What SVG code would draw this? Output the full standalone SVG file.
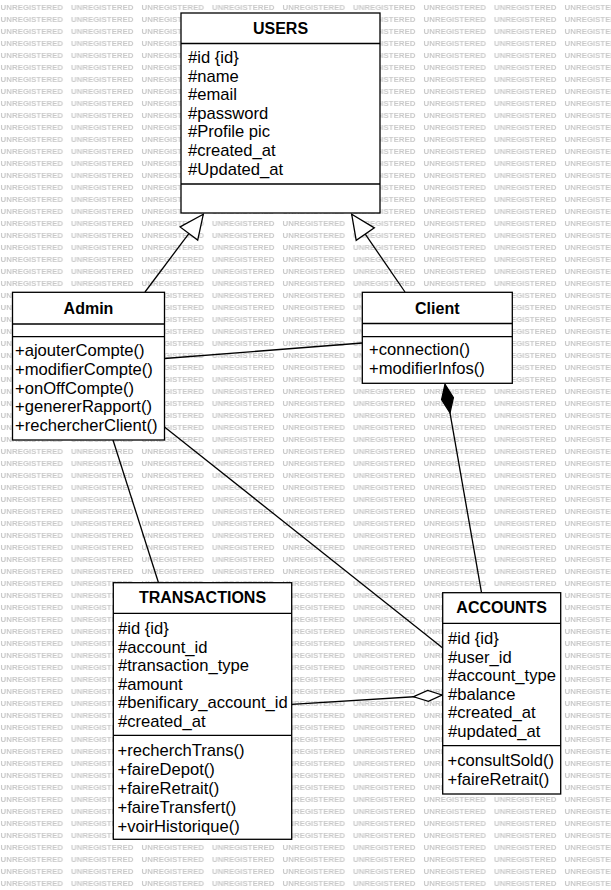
<svg xmlns="http://www.w3.org/2000/svg" width="611" height="890" viewBox="0 0 611 890">
<style>
.box{fill:#fff;stroke:#000;stroke-width:1.3}
.div{stroke:#000;stroke-width:1.3}
.t{font-family:"Liberation Sans",Arial,sans-serif;font-size:16px;font-weight:bold;fill:#000;text-anchor:middle}
.m{font-family:"Liberation Sans",Arial,sans-serif;font-size:16.6px;fill:#000}
.wm{font-family:"Liberation Sans",Arial,sans-serif;font-size:7.6px;font-weight:bold;fill:#c9c9c9}
.c{fill:none;stroke:#000;stroke-width:1.3}
</style>
<defs>
<pattern id="wmp" x="0" y="0" width="70.5" height="12" patternUnits="userSpaceOnUse">
<text class="wm" x="0.5" y="10" textLength="62.5" lengthAdjust="spacingAndGlyphs">UNREGISTERED</text>
</pattern>
<marker id="gen" markerUnits="userSpaceOnUse" orient="auto" refX="0" refY="0" markerWidth="30" markerHeight="30" overflow="visible">
<path d="M0,0 L-24,-11 L-24,11 Z" fill="#fff" stroke="#000" stroke-width="1.3"/>
</marker>
<marker id="comp" markerUnits="userSpaceOnUse" orient="auto" refX="0" refY="0" markerWidth="32" markerHeight="32" overflow="visible">
<path d="M0,0 L14.5,-6 L29,0 L14.5,6 Z" fill="#000" stroke="#000" stroke-width="1.3"/>
</marker>
<marker id="agg" markerUnits="userSpaceOnUse" orient="auto" refX="0" refY="0" markerWidth="32" markerHeight="32" overflow="visible">
<path d="M0,0 L-14,-5.5 L-28.5,0 L-14,5.5 Z" fill="#fff" stroke="#000" stroke-width="1.3"/>
</marker>
</defs>
<rect x="0" y="0" width="611" height="890" fill="#fff"/>
<rect x="0" y="0" width="611" height="890" fill="url(#wmp)"/>

<g id="connectors">
<line class="c" x1="145" y1="292" x2="203.3" y2="214.3" marker-end="url(#gen)"/>
<line class="c" x1="405" y1="292" x2="351.7" y2="214.3" marker-end="url(#gen)"/>
<line class="c" x1="164.5" y1="358.5" x2="362.3" y2="343"/>
<line class="c" x1="113" y1="440" x2="158.5" y2="582.7"/>
<line class="c" x1="164.5" y1="427" x2="442.7" y2="648"/>
<path class="c" d="M445,384.3 L481.5,592.7" marker-start="url(#comp)"/>
<line class="c" x1="291.7" y1="704.3" x2="442" y2="695" marker-end="url(#agg)"/>
</g>

<g id="users">
<rect class="box" x="181" y="13" width="199" height="200"/>
<line class="div" x1="181" y1="43.5" x2="380" y2="43.5"/>
<line class="div" x1="181" y1="184" x2="380" y2="184"/>
<text class="t" x="280.5" y="34">USERS</text>
<text class="m" x="188" y="63">#id {id}</text>
<text class="m" x="188" y="81.6">#name</text>
<text class="m" x="188" y="100.2">#email</text>
<text class="m" x="188" y="118.8">#password</text>
<text class="m" x="188" y="137.4">#Profile pic</text>
<text class="m" x="188" y="156">#created_at</text>
<text class="m" x="188" y="174.6">#Updated_at</text>
</g>

<g id="admin">
<rect class="box" x="12.5" y="292.3" width="152" height="147.7"/>
<line class="div" x1="12.5" y1="324" x2="164.5" y2="324"/>
<line class="div" x1="12.5" y1="336.7" x2="164.5" y2="336.7"/>
<text class="t" x="88.5" y="313.7">Admin</text>
<text class="m" x="15" y="355.7">+ajouterCompte()</text>
<text class="m" x="15" y="374.6">+modifierCompte()</text>
<text class="m" x="15" y="393.5">+onOffCompte()</text>
<text class="m" x="15" y="412.4">+genererRapport()</text>
<text class="m" x="15" y="431.3">+rechercherClient()</text>
</g>

<g id="client">
<rect class="box" x="362.3" y="292.3" width="150" height="91"/>
<line class="div" x1="362.3" y1="323.5" x2="512.3" y2="323.5"/>
<line class="div" x1="362.3" y1="336.7" x2="512.3" y2="336.7"/>
<text class="t" x="437.3" y="314">Client</text>
<text class="m" x="369" y="355">+connection()</text>
<text class="m" x="369" y="374">+modifierInfos()</text>
</g>

<g id="transactions">
<rect class="box" x="113.3" y="582.7" width="178.4" height="256.6"/>
<line class="div" x1="113.3" y1="613.3" x2="291.7" y2="613.3"/>
<line class="div" x1="113.3" y1="735.3" x2="291.7" y2="735.3"/>
<text class="t" x="202.5" y="603">TRANSACTIONS</text>
<text class="m" x="118" y="634">#id {id}</text>
<text class="m" x="118" y="652.5">#account_id</text>
<text class="m" x="118" y="671">#transaction_type</text>
<text class="m" x="118" y="689.5">#amount</text>
<text class="m" x="118" y="708">#benificary_account_id</text>
<text class="m" x="118" y="726.5">#created_at</text>
<text class="m" x="117.5" y="756.4">+recherchTrans()</text>
<text class="m" x="117.5" y="775.2">+faireDepot()</text>
<text class="m" x="117.5" y="794">+faireRetrait()</text>
<text class="m" x="117.5" y="812.8">+faireTransfert()</text>
<text class="m" x="117.5" y="831.6">+voirHistorique()</text>
</g>

<g id="accounts">
<rect class="box" x="442.7" y="592.7" width="118" height="201.3"/>
<line class="div" x1="442.7" y1="623.3" x2="560.7" y2="623.3"/>
<line class="div" x1="442.7" y1="745.7" x2="560.7" y2="745.7"/>
<text class="t" x="501.7" y="613">ACCOUNTS</text>
<text class="m" x="448" y="644">#id {id}</text>
<text class="m" x="448" y="662.5">#user_id</text>
<text class="m" x="448" y="681">#account_type</text>
<text class="m" x="448" y="699.5">#balance</text>
<text class="m" x="448" y="718">#created_at</text>
<text class="m" x="448" y="736.5">#updated_at</text>
<text class="m" x="447.5" y="766.4">+consultSold()</text>
<text class="m" x="447.5" y="785.2">+faireRetrait()</text>
</g>
</svg>
